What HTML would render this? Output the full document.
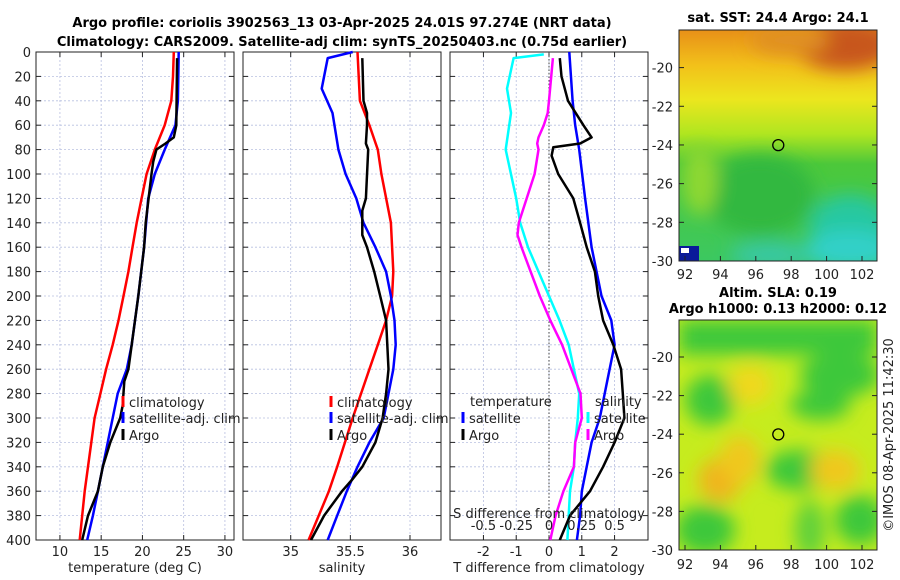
<!DOCTYPE html>
<html><head><meta charset="utf-8"><style>
body{margin:0;background:#fff;}
svg{display:block;font-family:"DejaVu Sans","Liberation Sans",sans-serif;}
</style></head><body>
<svg id="c" width="900" height="580" viewBox="0 0 900 580">
<defs>
<filter id="bl" x="-50%" y="-50%" width="200%" height="200%"><feGaussianBlur stdDeviation="9"/></filter>
<clipPath id="cp1"><rect x="679" y="30" width="198" height="231"/></clipPath>
<clipPath id="cp2"><rect x="679" y="320" width="198" height="230"/></clipPath>
<linearGradient id="sstg" x1="0" y1="0" x2="0" y2="1">
<stop offset="0" stop-color="#e89018"/><stop offset="0.15" stop-color="#f2c01a"/><stop offset="0.3" stop-color="#ece61e"/><stop offset="0.45" stop-color="#b0e620"/><stop offset="0.58" stop-color="#4cc83a"/><stop offset="1" stop-color="#3cc860"/></linearGradient>
</defs>
<text x="342" y="27" text-anchor="middle" font-weight="bold" font-size="13">Argo profile: coriolis 3902563_13 03-Apr-2025 24.01S 97.274E (NRT data)</text>
<text x="342" y="46" text-anchor="middle" font-weight="bold" font-size="13">Climatology: CARS2009. Satellite-adj clim: synTS_20250403.nc (0.75d earlier)</text>
<g id="maps">
<text x="778" y="22" text-anchor="middle" font-weight="bold" font-size="13">sat. SST: 24.4 Argo: 24.1</text>
<g clip-path="url(#cp1)">
<rect x="679" y="30" width="198" height="231" fill="url(#sstg)"/>
<g filter="url(#bl)">
<ellipse cx="845" cy="45" rx="50" ry="25" fill="#c8561a"/>
<ellipse cx="790" cy="40" rx="40" ry="15" fill="#e09020"/>
<ellipse cx="760" cy="195" rx="55" ry="40" fill="#30b840"/>
<ellipse cx="850" cy="225" rx="40" ry="30" fill="#28c8a0"/>
<ellipse cx="850" cy="250" rx="45" ry="20" fill="#30d0c8"/>
<ellipse cx="700" cy="180" rx="18" ry="35" fill="#8ed832"/>
<ellipse cx="770" cy="255" rx="40" ry="12" fill="#38c8a8"/>
</g>
<rect x="679" y="246" width="20" height="15" fill="#0a1a9a"/>
<rect x="681" y="248" width="8" height="5" fill="#fff"/>
</g>
<rect x="679" y="30" width="198" height="231" fill="none" stroke="#222"/>
<text x="778" y="297" text-anchor="middle" font-weight="bold" font-size="13">Altim. SLA: 0.19</text>
<text x="778" y="313" text-anchor="middle" font-weight="bold" font-size="13">Argo h1000: 0.13 h2000: 0.12</text>
<g clip-path="url(#cp2)">
<rect x="679" y="320" width="198" height="230" fill="#c6ec1e"/>
<g filter="url(#bl)">
<rect x="679" y="320" width="198" height="35" fill="#3cc83a"/>
<ellipse cx="710" cy="400" rx="25" ry="25" fill="#3cc83a"/>
<ellipse cx="800" cy="470" rx="35" ry="20" fill="#3cc83a"/>
<ellipse cx="705" cy="530" rx="30" ry="25" fill="#3cc83a"/>
<ellipse cx="860" cy="520" rx="25" ry="25" fill="#3cc83a"/>
<ellipse cx="810" cy="530" rx="15" ry="30" fill="#5fd03a"/>
<ellipse cx="840" cy="375" rx="40" ry="22" fill="#3cc83a"/>
<ellipse cx="820" cy="405" rx="30" ry="15" fill="#3cc83a"/>
<ellipse cx="750" cy="385" rx="22" ry="20" fill="#f0d81e"/>
<ellipse cx="720" cy="480" rx="22" ry="22" fill="#f0b41e"/>
<ellipse cx="740" cy="460" rx="20" ry="25" fill="#f0c81e"/>
<ellipse cx="835" cy="470" rx="25" ry="20" fill="#f0c81e"/>
</g>
</g>
<rect x="679" y="320" width="198" height="230" fill="none" stroke="#222"/>
</g>
<text transform="translate(893,435) rotate(-90)" text-anchor="middle" font-size="13" fill="#222">©IMOS 08-Apr-2025 11:42:30</text>
</svg>
<script>
// ---- data ----
const tempDepth=[0,20,40,60,80,100,120,140,160,180,200,220,240,260,280,300,320,340,360,380,400];
const tempClim=[23.8,23.7,23.5,22.7,21.5,20.5,19.9,19.3,18.8,18.3,17.7,17.1,16.4,15.6,14.9,14.2,13.8,13.4,13.0,12.7,12.4];
const satDepth=[0,40,60,80,100,120,160,200,240,260,280,300,340,360,380,400];
const tempSat=[24.4,24.3,24.0,22.7,21.5,20.7,20.2,19.5,18.7,18.1,17.0,16.4,15.2,14.6,14.0,13.3];
const argoDepth=[5,60,70,75,80,90,100,140,160,200,240,260,270,290,300,320,340,360,380,400];
const tempArgo=[24.2,24.1,23.8,22.8,21.7,21.3,21.1,20.4,20.2,19.5,18.7,18.3,17.8,17.6,17.3,16.1,15.2,14.6,13.4,12.7];
const salDepth=[0,40,60,80,100,140,180,200,220,240,260,300,340,360,400];
const salClim=[35.56,35.58,35.66,35.73,35.76,35.84,35.86,35.85,35.80,35.73,35.66,35.52,35.39,35.32,35.15];
const salSatDepth=[0,5,30,50,80,100,120,140,160,180,200,220,240,260,280,300,320,340,360,380,400];
const salSat=[35.52,35.31,35.26,35.35,35.40,35.46,35.55,35.61,35.71,35.80,35.84,35.87,35.88,35.86,35.82,35.78,35.66,35.56,35.47,35.39,35.31];
const salArgoDepth=[5,40,50,60,75,80,120,130,150,160,180,200,220,240,260,280,300,320,340,350,360,380,400];
const salArgo=[35.60,35.61,35.64,35.64,35.63,35.65,35.63,35.60,35.60,35.64,35.70,35.75,35.80,35.81,35.82,35.80,35.77,35.71,35.60,35.52,35.43,35.28,35.17];
const tdSatDepth=[0,40,60,80,120,160,200,220,240,260,280,300,320,340,360,380,400];
const tdSat=[0.62,0.72,0.8,0.92,1.1,1.3,1.6,1.9,2.0,1.85,1.7,1.55,1.3,1.15,1.0,0.95,0.85];
const tdArgoDepth=[5,20,40,60,70,75,78,85,100,120,140,160,180,200,220,240,260,280,300,320,340,360,380,400];
const tdArgo=[0.33,0.38,0.58,1.05,1.3,0.95,0.13,0.08,0.28,0.74,0.95,1.15,1.4,1.5,1.65,1.96,2.2,2.25,2.3,2.0,1.65,1.25,0.64,0.33];
const sdSatDepth=[2,5,30,50,80,120,140,160,180,200,220,240,260,280,300,320,340,360,380,400];
const sdSat=[-0.04,-0.27,-0.32,-0.29,-0.33,-0.25,-0.22,-0.16,-0.08,0,0.08,0.15,0.19,0.23,0.22,0.2,0.19,0.16,0.15,0.14];
const sdArgoDepth=[5,40,50,60,70,75,80,100,120,140,150,160,180,200,220,240,260,280,300,320,340,360,380,400];
const sdArgo=[0.03,0,-0.01,-0.04,-0.08,-0.09,-0.08,-0.11,-0.17,-0.23,-0.24,-0.21,-0.14,-0.07,0.01,0.1,0.17,0.24,0.25,0.2,0.19,0.11,0.05,0.01];
const depthTicks=[0,20,40,60,80,100,120,140,160,180,200,220,240,260,280,300,320,340,360,380,400];
const tempTicks=[10,15,20,25,30];
const salTicks=[35,35.5,36];
const tdTicks=[-2,-1,0,1,2];
const sdTicks=[-0.5,-0.25,0,0.25,0.5];
const latTicks=[-20,-22,-24,-26,-28,-30];
const lonTicks=[92,94,96,98,100,102];

const NS='http://www.w3.org/2000/svg';
const svg=document.getElementById('c');
function mk(tag,attrs,parent){const e=document.createElementNS(NS,tag);for(const k in attrs)e.setAttribute(k,attrs[k]);(parent||svg).appendChild(e);return e;}
const Y0=52,Y1=540;
const yD=d=>Y0+d*(Y1-Y0)/400;
function panel(name,x0,x1,dmin,dmax,ticks,showDepth){
  const g=mk('g',{});
  
  
  const sx=v=>x0+(v-dmin)/(dmax-dmin)*(x1-x0);
  depthTicks.forEach(d=>{
    const y=yD(d);
    mk('line',{x1:x0,x2:x1,y1:y,y2:y,stroke:'#b8c0e0','stroke-width':0.8,'stroke-dasharray':'2,2'},g);
    mk('line',{x1:x0,x2:x0+5,y1:y,y2:y,stroke:'#222'},g);
    mk('line',{x1:x1-5,x2:x1,y1:y,y2:y,stroke:'#222'},g);
    if(showDepth){const t=mk('text',{x:x0-5,y:y+5,'text-anchor':'end','font-size':13,fill:'#222'},g);t.textContent=d;}
  });
  ticks.forEach(v=>{
    const x=sx(v);
    mk('line',{x1:x,x2:x,y1:Y0,y2:Y1,stroke:'#b8c0e0','stroke-width':0.8,'stroke-dasharray':'2,2'},g);
    mk('line',{x1:x,x2:x,y1:Y1-5,y2:Y1,stroke:'#222'},g);
    mk('line',{x1:x,x2:x,y1:Y0,y2:Y0+5,stroke:'#222'},g);
    const t=mk('text',{x:x,y:556,'text-anchor':'middle','font-size':13,fill:'#222'},g);t.textContent=v;
  });
  mk('rect',{x:x0,y:Y0,width:x1-x0,height:Y1-Y0,fill:'none',stroke:'#222'},g);
  return {g,sx};
}
function line(p,name,xs,ds,color,scale){
  const pts=xs.map((v,i)=>p.sx(v*(scale||1)).toFixed(1)+','+yD(ds[i]).toFixed(1)).join(' ');
  const e=mk('polyline',{points:pts,fill:'none',stroke:color,'stroke-width':2.5,'stroke-linejoin':'round'},p.g);
  
  
}
function txt(g,x,y,s,name,anchor){const t=mk('text',{x:x,y:y,'font-size':13,fill:'#222','text-anchor':anchor||'start'},g);t.textContent=s;return t;}
function legItem(g,x,y,color,label,name){
  const r=mk('rect',{x:x-1.5,y:y-11,width:3,height:11,fill:color},g);
  
  
  txt(g,x+6,y,label,name);
}
// panel 1
const p1=panel('temperature-panel',36,234,7.1,31.1,tempTicks,true);
line(p1,'temp-climatology-line',tempClim,tempDepth,'#ff0000');
line(p1,'temp-satellite-line',tempSat,satDepth,'#0000ff');
line(p1,'temp-argo-line',tempArgo,argoDepth,'#000000');
txt(p1.g,135,572,'temperature (deg C)','temperature-axis-title','middle');
legItem(p1.g,123,407,'#ff0000','climatology','legend-climatology');
legItem(p1.g,123,423,'#0000ff','satellite-adj. clim','legend-satellite');
legItem(p1.g,123,440,'#000000','Argo','legend-argo');
// panel 2
const p2=panel('salinity-panel',243,441,34.6,36.26,salTicks,false);
line(p2,'sal-climatology-line',salClim,salDepth,'#ff0000');
line(p2,'sal-satellite-line',salSat,salSatDepth,'#0000ff');
line(p2,'sal-argo-line',salArgo,salArgoDepth,'#000000');
txt(p2.g,342,572,'salinity','salinity-axis-title','middle');
legItem(p2.g,331,407,'#ff0000','climatology','legend2-climatology');
legItem(p2.g,331,423,'#0000ff','satellite-adj. clim','legend2-satellite');
legItem(p2.g,331,440,'#000000','Argo','legend2-argo');
// panel 3
const p3=panel('difference-panel',450,648,-3.02,3.02,tdTicks,false);
mk('line',{x1:p3.sx(0),x2:p3.sx(0),y1:Y0,y2:Y1,stroke:'#444','stroke-dasharray':'1.5,2'},p3.g);
line(p3,'sdiff-satellite-line',sdSat,sdSatDepth,'#00ffff',4);
line(p3,'sdiff-argo-line',sdArgo,sdArgoDepth,'#ff00ff',4);
line(p3,'tdiff-satellite-line',tdSat,tdSatDepth,'#0000ff');
line(p3,'tdiff-argo-line',tdArgo,tdArgoDepth,'#000000');
sdTicks.forEach(v=>{const t=txt(p3.g,p3.sx(v*4),530,String(v),'sdiff-tick-label','middle');});
txt(p3.g,549,518,'S difference from climatology','sdiff-axis-title','middle');
txt(p3.g,549,572,'T difference from climatology','tdiff-axis-title','middle');
txt(p3.g,470,406,'temperature','legend3-temp-header');
txt(p3.g,595,406,'salinity','legend3-sal-header');
legItem(p3.g,463,423,'#0000ff','satellite','legend3-t-satellite');
legItem(p3.g,463,440,'#000000','Argo','legend3-t-argo');
legItem(p3.g,588,423,'#00ffff','satellite','legend3-s-satellite');
legItem(p3.g,588,440,'#ff00ff','Argo','legend3-s-argo');
// map axes
function mapAxes(name,top,y20,y30,bottom,labY){
  const g=mk('g',{});
  
  
  const sy=l=>y20+(l+20)/(-10)*(y30-y20);
  const sx=l=>685+(l-92)*17.7;
  latTicks.forEach(l=>{const y=sy(l);mk('line',{x1:872,x2:877,y1:y,y2:y,stroke:'#222'},g);mk('line',{x1:679,x2:684,y1:y,y2:y,stroke:'#222'},g);
    const t=mk('text',{x:673,y:y+5,'text-anchor':'end','font-size':13,fill:'#222'},g);t.textContent=l;});
  lonTicks.forEach(l=>{const x=sx(l);mk('line',{x1:x,x2:x,y1:bottom-5,y2:bottom,stroke:'#222'},g);
    const t=mk('text',{x:x,y:labY,'text-anchor':'middle','font-size':13,fill:'#222'},g);t.textContent=l;});
  const c=mk('circle',{cx:sx(97.27),cy:sy(-24.01),r:5.5,fill:'none',stroke:'#000','stroke-width':1.3},g);
  
  
}
mapAxes('sst-map-axes',30,67.6,261,261,279);
mapAxes('sla-map-axes',320,357,550,550,569);
</script>
</body></html>
